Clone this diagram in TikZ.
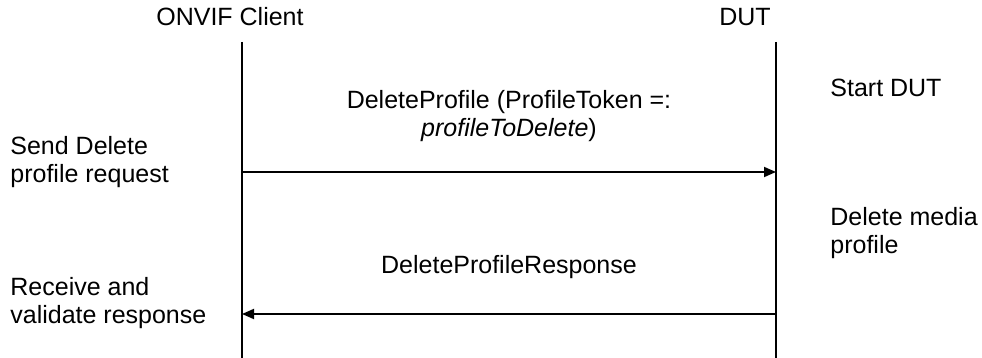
\documentclass[tikz,border=0pt]{standalone}
\usepackage{fontspec}
\setmainfont{Liberation Sans}
\usetikzlibrary{arrows.meta,positioning}
\tikzset{seqchart/.style={
  x=0.5pt,y=-0.5pt,
  >={Triangle[length=6pt,width=5pt]},line join=round,
  font=\fontsize{12.5}{13.6}\selectfont
},
lifeline/.style={line width=0.9pt},
msg/.style={->,line width=0.9pt},
leftnote/.style={anchor=west,align=left,inner sep=0pt},
msglabel/.style={align=center,inner sep=0pt}}

\begin{document}
\begin{tikzpicture}[seqchart]
  \useasboundingbox (0,0) rectangle (982,358);
  \coordinate (C1) at (242,42);
  \coordinate (C2) at (242,358);
  \coordinate (D1) at (776,42);
  \coordinate (D2) at (776,358);
  \coordinate (Req1) at (242,172);
  \coordinate (Req2) at (776,172);
  \coordinate (Rsp1) at (776,314);
  \coordinate (Rsp2) at (242,314);

  \draw[lifeline] (C1)--(C2);
  \draw[lifeline] (D1)--(D2);
  \draw[msg] (Req1)--(Req2);
  \draw[msg] (Rsp1)--(Rsp2);

  \node[inner sep=0pt] (client) at (230,17){ONVIF Client};
  \node[inner sep=0pt] (dut) at (745,17){DUT};
  \node[msglabel] (reqtxt) at (509,116){DeleteProfile (ProfileToken =:\\\textit{profileToDelete})};
  \node[msglabel] (rsptxt) at (509,267){DeleteProfileResponse};
  \node[leftnote] (send) at (10,162){Send Delete\\profile request};
  \node[leftnote] (recv) at (10,303){Receive and\\validate response};
  \node[leftnote] (start) at (830,88){Start DUT};
  \node[leftnote] (delete) at (830,233){Delete media\\profile};
\end{tikzpicture}
\end{document}
